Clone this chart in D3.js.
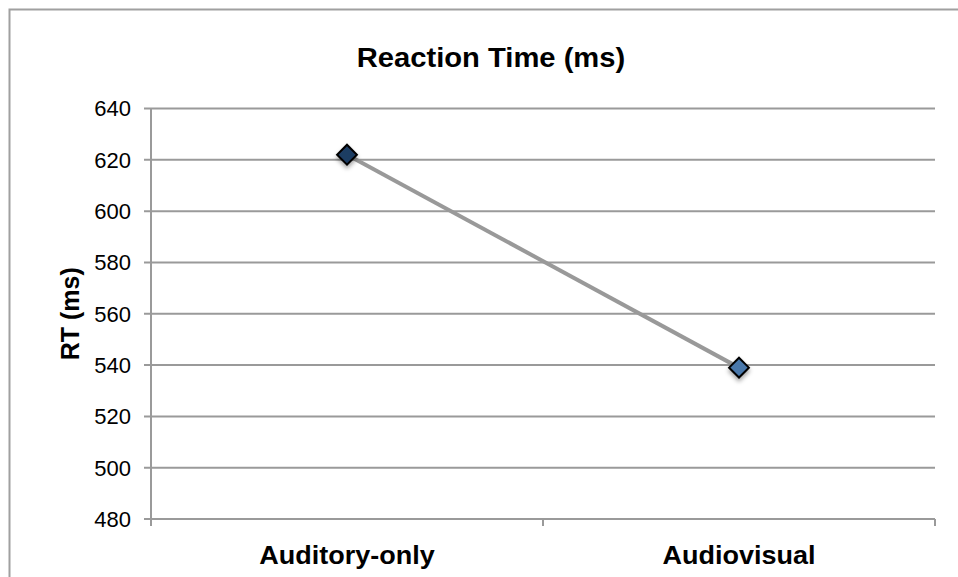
<!DOCTYPE html>
<html>
<head>
<meta charset="utf-8">
<script src="https://cdn.jsdelivr.net/npm/d3@7"></script>
<style>
  body { margin: 0; background: #fff; }
  svg text { font-family: "Liberation Sans", Arial, sans-serif; fill: #000; }
</style>
</head>
<body>
<div id="chart"></div>
<script>
// chart data
var categories = ["Auditory-only", "Audiovisual"];
var rtValues = [622, 539];
var yTicks = [480, 500, 520, 540, 560, 580, 600, 620, 640];
var markerFills = ["#1e3c62", "#4878ab"];

var W = 958, H = 577;
var plotL = 151, plotR = 935, plotT = 108.5, plotB = 519;
var sx = 1.08; // text in the picture is slightly wide

var svg = d3.select("#chart").append("svg")
  .attr("width", W).attr("height", H);

// drop shadow for markers
var defs = svg.append("defs");
var f = defs.append("filter").attr("id", "shadow")
  .attr("x", "-50%").attr("y", "-50%").attr("width", "200%").attr("height", "200%");
f.append("feDropShadow").attr("dx", 0).attr("dy", 3).attr("stdDeviation", 2)
  .attr("flood-color", "#000").attr("flood-opacity", 0.35);

// outer chart border
svg.append("rect")
  .attr("x", 9.5).attr("y", 9.5).attr("width", 960).attr("height", 600)
  .attr("fill", "none").attr("stroke", "#a0a0a0").attr("stroke-width", 2);

var y = d3.scaleLinear().domain([480, 640]).range([plotB, plotT]);
var x = d3.scaleBand().domain(categories).range([plotL, plotR]);

// gridlines
svg.append("g").selectAll("line").data(yTicks).enter().append("line")
  .attr("x1", plotL - 7).attr("x2", plotR)
  .attr("y1", function(d){ return y(d); }).attr("y2", function(d){ return y(d); })
  .attr("stroke", "#9a9a9a").attr("stroke-width", 2);

// y axis line
svg.append("line")
  .attr("x1", plotL).attr("x2", plotL).attr("y1", plotT).attr("y2", plotB + 7)
  .attr("stroke", "#9a9a9a").attr("stroke-width", 2);

// category tick marks
var catEdges = [x.range()[0] + x.bandwidth(), x.range()[1]];
svg.append("g").selectAll("line").data(catEdges).enter().append("line")
  .attr("x1", function(d){ return d; }).attr("x2", function(d){ return d; })
  .attr("y1", plotB).attr("y2", plotB + 7)
  .attr("stroke", "#9a9a9a").attr("stroke-width", 2);

// y tick labels
svg.append("g").selectAll("text").data(yTicks).enter().append("text")
  .attr("x", 131).attr("y", function(d){ return y(d); })
  .attr("dy", "0.36em").attr("text-anchor", "end")
  .style("font-size", "22px")
  .text(function(d){ return d; });

// category labels
svg.append("g").selectAll("text").data(categories).enter().append("text")
  .attr("transform", function(d){ return "translate(" + (x(d) + x.bandwidth() / 2) + ",564) scale(" + sx + ",1)"; })
  .attr("text-anchor", "middle")
  .style("font-size", "25px").style("font-weight", "bold")
  .text(function(d){ return d; });

// title
svg.append("text")
  .attr("transform", "translate(491,67) scale(" + sx + ",1)")
  .attr("text-anchor", "middle")
  .style("font-size", "27px").style("font-weight", "bold")
  .text("Reaction Time (ms)");

// y axis title
svg.append("text")
  .attr("transform", "translate(79," + ((plotT + plotB) / 2) + ") rotate(-90)")
  .attr("text-anchor", "middle")
  .style("font-size", "25px").style("font-weight", "bold")
  .text("RT (ms)");

// series line
var pts = categories.map(function(c, i){ return [x(c) + x.bandwidth() / 2, y(rtValues[i])]; });
svg.append("path")
  .attr("d", d3.line()(pts))
  .attr("fill", "none").attr("stroke", "#999").attr("stroke-width", 4);

// diamond markers
svg.append("g").selectAll("path").data(pts).enter().append("path")
  .attr("transform", function(d){ return "translate(" + d[0] + "," + d[1] + ")"; })
  .attr("d", d3.symbol().type(d3.symbolDiamond2).size(250))
  .attr("fill", function(d, i){ return markerFills[i]; })
  .attr("stroke", "#000").attr("stroke-width", 2)
  .attr("filter", "url(#shadow)");
</script>
</body>
</html>
